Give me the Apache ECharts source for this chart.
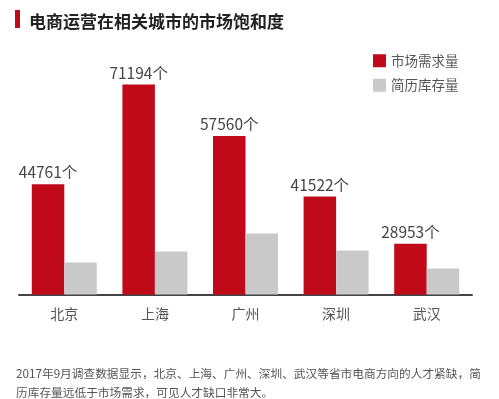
<!DOCTYPE html>
<html>
<head>
<meta charset="utf-8">
<script src="https://cdn.jsdelivr.net/npm/echarts@6/dist/echarts.min.js"></script>
<style>
  html, body { margin: 0; padding: 0; background: #fff; }
  #chart { width: 499px; height: 399px; }
</style>
</head>
<body>
<div id="chart"></div>
<script>
// 城市
const cities = ["北京", "上海", "广州", "深圳", "武汉"];
// 市场需求量（图上标注）
const demand = [44761, 71194, 57560, 41522, 28953];
// 简历库存量（无标注，按柱高估读）
const resumes = [24000, 26900, 31700, 27200, 22400];

const seriesNames = ["市场需求量", "简历库存量"];
const titleText = "电商运营在相关城市的市场饱和度";
const noteText = "2017年9月调查数据显示，北京、上海、广州、深圳、武汉等省市电商方向的人才紧缺，简\n历库存量远低于市场需求，可见人才缺口非常大。";

const font = "Noto Sans CJK SC";
const red = "#c00a19";
const grey = "#c9c9c9";

let chart = echarts.init(document.getElementById("chart"));
chart.setOption({
  animation: false,
  textStyle: { fontFamily: font },
  title: {
    text: titleText,
    left: 24,
    top: 8,
    textStyle: { fontFamily: font, fontSize: 17, fontWeight: "bold", color: "#222" }
  },
  graphic: [
    {
      type: "rect",
      left: 15,
      top: 10,
      shape: { width: 5, height: 18 },
      style: { fill: red }
    },
    {
      type: "text",
      left: 16,
      top: 364,
      style: {
        text: noteText,
        font: "11.7px " + font,
        fill: "#555",
        lineHeight: 19
      }
    }
  ],
  legend: {
    orient: "vertical",
    left: 368,
    top: 49,
    itemWidth: 13,
    itemHeight: 13,
    itemGap: 11,
    icon: "rect",
    data: seriesNames,
    textStyle: { fontFamily: font, fontSize: 13.5, color: "#555" }
  },
  grid: {
    left: 19,
    right: 27,
    top: 60,
    bottom: 104.5
  },
  xAxis: {
    type: "category",
    data: cities,
    axisTick: { show: false },
    axisLine: { lineStyle: { color: "#444", width: 2 } },
    axisLabel: { fontFamily: font, fontSize: 14, color: "#555", margin: 12 }
  },
  yAxis: {
    type: "value",
    min: 15500,
    max: 77700,
    show: false,
    splitLine: { show: false }
  },
  series: [
    {
      name: seriesNames[0],
      type: "bar",
      data: demand,
      barWidth: 32.5,
      barGap: "0%",
      itemStyle: { color: red },
      label: {
        show: true,
        position: "top",
        distance: 4,
        formatter: "{c}个",
        fontFamily: font,
        fontSize: 15.5,
        color: "#444"
      }
    },
    {
      name: seriesNames[1],
      type: "bar",
      data: resumes,
      barWidth: 32.5,
      barGap: "0%",
      itemStyle: { color: grey }
    }
  ]
});
</script>
</body>
</html>
